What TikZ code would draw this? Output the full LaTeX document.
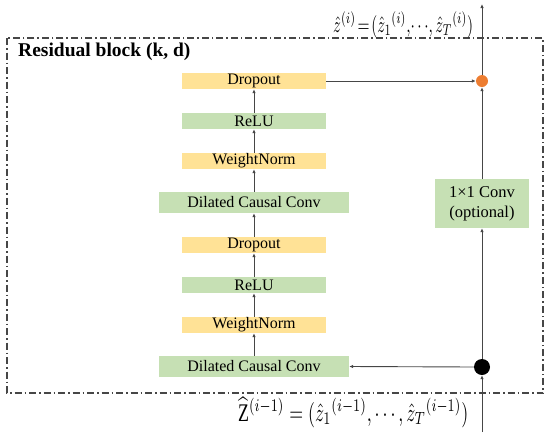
\documentclass[tikz,border=0pt]{standalone}
\usepackage{fontspec}
\usepackage{graphicx}
\setmainfont{Liberation Serif}
\usetikzlibrary{arrows.meta}
\definecolor{boxyellow}{RGB}{255,226,150}
\definecolor{boxgreen}{RGB}{198,224,180}
\definecolor{dotorange}{RGB}{237,125,49}
\definecolor{linegray}{RGB}{70,70,70}
\tikzset{
  ybox/.style={fill=boxyellow, minimum width=144pt, minimum height=16pt, inner sep=0pt, font=\fontsize{16}{18}\selectfont},
  gbox/.style={fill=boxgreen, minimum width=144pt, minimum height=16pt, inner sep=0pt, font=\fontsize{16}{18}\selectfont},
  convbox/.style={fill=boxgreen, minimum width=190pt, minimum height=21pt, inner sep=0pt, font=\fontsize{16}{18}\selectfont},
  conn/.style={draw=linegray, line width=0.9pt, -{Latex[length=4pt,width=3.5pt]}},
  frame/.style={draw=linegray, line width=1.1pt, dash pattern=on 7pt off 3pt on 1.5pt off 3pt},
  lbl/.style={inner sep=0pt, anchor=base west}
}
\begin{document}
\begin{tikzpicture}[x=1pt,y=-1pt]
\useasboundingbox (0,0) rectangle (550,432);
\draw[frame] (7,38) rectangle (543,393);
\node[anchor=west, inner sep=0pt, font=\fontsize{19.5}{22}\bfseries] (title) at (18,52) {Residual block (k, d)};

\node[ybox] (do1) at (254,81) {Dropout};
\node[gbox] (re1) at (254,121) {ReLU};
\node[ybox] (wn1) at (254,161) {WeightNorm};
\node[convbox] (dc1) at (254,202.5) {Dilated Causal Conv};
\node[ybox] (do2) at (254,245) {Dropout};
\node[gbox] (re2) at (254,285) {ReLU};
\node[ybox] (wn2) at (254,325) {WeightNorm};
\node[convbox] (dc2) at (254,366.5) {Dilated Causal Conv};

\node[fill=boxgreen, minimum width=94pt, minimum height=49pt, inner sep=0pt, align=center, font=\fontsize{16.5}{20}\selectfont] (skip) at (482,203.5) {1×1 Conv\\(optional)};

\node[circle, fill=dotorange, minimum size=12pt, inner sep=0pt] (add) at (482,81) {};
\node[circle, fill=black, minimum size=16pt, inner sep=0pt] (split) at (482,367) {};

\coordinate (top) at (482,4);
\coordinate (bot) at (482,432);

\draw[conn] (dc2.north) -- (wn2.south);
\draw[conn] (wn2.north) -- (re2.south);
\draw[conn] (re2.north) -- (do2.south);
\draw[conn] (do2.north) -- (dc1.south);
\draw[conn] (dc1.north) -- (wn1.south);
\draw[conn] (wn1.north) -- (re1.south);
\draw[conn] (re1.north) -- (do1.south);

\draw[conn] (do1.east) -- (add.west);
\draw[conn] (bot) -- (split.south);
\draw[conn] (split.west) -- (dc2.east);
\draw[conn] (split.north) -- (skip.south);
\draw[conn] (skip.north) -- (add.south);
\draw[conn] (add.north) -- (top);

\node[lbl] (outlbl) at (333,32) {\resizebox{140pt}{20pt}{$\hat{z}^{(i)}\!=\!(\hat{z}_1{}^{(i)},\!\cdots\!,\hat{z}_T{}^{(i)})$}};
\node[lbl] (inlbl) at (238,421) {\resizebox{230pt}{24pt}{$\widehat{\mathrm{Z}}^{(i-1)} = (\hat{z}_1{}^{(i-1)}, \cdots, \hat{z}_T{}^{(i-1)})$}};
\end{tikzpicture}
\end{document}
